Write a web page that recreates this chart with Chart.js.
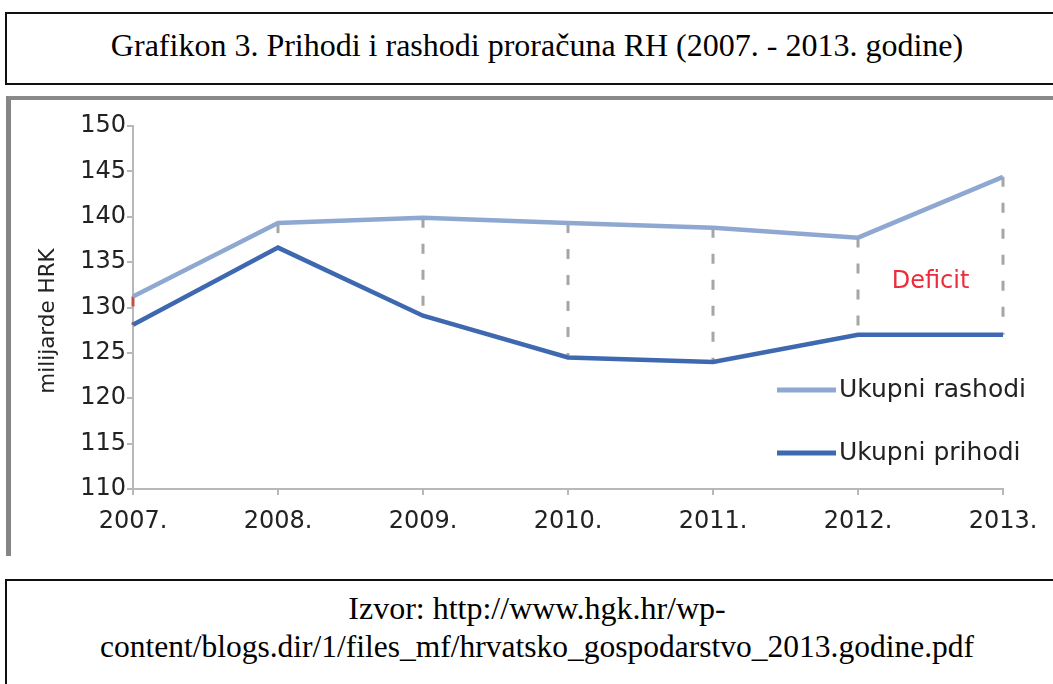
<!DOCTYPE html>
<html>
<head>
<meta charset="utf-8">
<script src="https://cdn.jsdelivr.net/npm/chart.js@4/dist/chart.umd.min.js"></script>
<style>
  html, body { margin:0; padding:0; background:#fff; width:1053px; height:684px; overflow:hidden; }
  .box { position:absolute; box-sizing:border-box; }
  #titleBox { left:5px; top:12px; width:1100px; height:73px; border:2px solid #111; }
  #chartBox { left:6px; top:96px; width:1100px; height:460px; border-top:4px solid #8a8a8a; border-left:5px solid #858585; }
  #srcBox { left:5px; top:579px; width:1100px; height:200px; border:2px solid #111; }
  .serif { position:absolute; left:0; width:1074px; text-align:center; font-family:"Liberation Serif","Times New Roman",serif; font-size:32px; line-height:37px; color:#000; white-space:nowrap; }
  #c { position:absolute; left:0; top:0; }
</style>
</head>
<body>
<div class="box" id="titleBox"></div>
<div class="box" id="chartBox"></div>
<div class="box" id="srcBox"></div>
<div class="serif" style="top:27px;">Grafikon 3. Prihodi i rashodi proračuna RH (2007. - 2013. godine)</div>
<div class="serif" style="top:590px;">Izvor: http://www.hgk.hr/wp-</div>
<div class="serif" style="top:628px;font-size:31.5px;">content/blogs.dir/1/files_mf/hrvatsko_gospodarstvo_2013.godine.pdf</div>
<canvas id="c" width="1053" height="684"></canvas>
<script>
const years = ["2007.", "2008.", "2009.", "2010.", "2011.", "2012.", "2013."];
const rashodi = [131.2, 139.3, 139.9, 139.3, 138.8, 137.7, 144.4];
const prihodi = [128.1, 136.6, 129.1, 124.5, 124.0, 127.0, 127.0];
const seriesNames = ["Ukupni rashodi", "Ukupni prihodi"];
const yTicks = [110, 115, 120, 125, 130, 135, 140, 145, 150];
const yAxisTitle = "milijarde HRK";
const deficitLabel = "Deficit";
const deficitPos = { x: 5.5, y: 132.8 };

const FONT = '"DejaVu Sans", Verdana, sans-serif';

const deficitPlugin = {
  id: 'deficit',
  beforeDatasetsDraw(chart) {
    const ctx = chart.ctx, xs = chart.scales.x, ys = chart.scales.y;
    ctx.save();
    ctx.lineWidth = 3;
    ctx.setLineDash([10, 16]);
    for (let i = 0; i < years.length; i++) {
      const x = xs.getPixelForValue(i);
      ctx.strokeStyle = i === 0 ? '#c0504d' : '#a6a6a6';
      ctx.beginPath();
      ctx.moveTo(x, ys.getPixelForValue(rashodi[i]));
      ctx.lineTo(x, ys.getPixelForValue(prihodi[i]));
      ctx.stroke();
    }
    ctx.restore();
  },
  afterDatasetsDraw(chart) {
    const ctx = chart.ctx, xs = chart.scales.x, ys = chart.scales.y;
    ctx.save();
    ctx.font = '24px ' + FONT;
    ctx.fillStyle = '#ee2b3b';
    ctx.textAlign = 'center';
    ctx.textBaseline = 'middle';
    ctx.fillText(deficitLabel, xs.getPixelForValue(deficitPos.x), ys.getPixelForValue(deficitPos.y));
    // y axis title
    ctx.save();
    ctx.translate(48, 321);
    ctx.rotate(-Math.PI / 2);
    ctx.font = '21.5px ' + FONT;
    ctx.fillStyle = '#222';
    ctx.fillText(yAxisTitle, 0, 0);
    ctx.restore();
    // legend
    const lx0 = 777, lx1 = 836, ly = [390, 453];
    chart.data.datasets.forEach((ds, k) => {
      ctx.strokeStyle = ds.borderColor;
      ctx.lineWidth = 5;
      ctx.setLineDash([]);
      ctx.beginPath();
      ctx.moveTo(lx0, ly[k]);
      ctx.lineTo(lx1, ly[k]);
      ctx.stroke();
      ctx.font = '25px ' + FONT;
      ctx.fillStyle = '#222';
      ctx.textAlign = 'left';
      ctx.textBaseline = 'middle';
      ctx.fillText(ds.label, lx1 + 3, ly[k]);
    });
    ctx.restore();
  }
};

new Chart(document.getElementById('c'), {
  type: 'line',
  data: {
    labels: years,
    datasets: [
      { label: seriesNames[0], data: rashodi, borderColor: '#8ea8d2', borderWidth: 4.5, pointRadius: 0, tension: 0, fill: false },
      { label: seriesNames[1], data: prihodi, borderColor: '#3e69b0', borderWidth: 4.5, pointRadius: 0, tension: 0, fill: false }
    ]
  },
  options: {
    responsive: false,
    animation: false,
    layout: { padding: { left: 33, right: 50, top: 126, bottom: 135 } },
    plugins: { legend: { display: false }, tooltip: { enabled: false } },
    scales: {
      x: {
        type: 'category',
        offset: false,
        afterFit(s) { s.height = 60; },
        grid: { display: true, drawOnChartArea: false, drawTicks: true, tickLength: 6, color: '#b8b8b8', lineWidth: 2 },
        border: { display: true, color: '#b8b8b8', width: 2 },
        ticks: { color: '#222', font: { family: FONT, size: 24 }, padding: 12, maxRotation: 0, autoSkip: false }
      },
      y: {
        min: 110, max: 150,
        afterFit(s) { s.width = 100; },
        afterBuildTicks(s) { s.ticks = yTicks.map(v => ({ value: v })); },
        grid: { display: true, drawOnChartArea: false, drawTicks: true, tickLength: 6, color: '#b8b8b8', lineWidth: 2 },
        border: { display: true, color: '#b8b8b8', width: 2 },
        ticks: { color: '#222', font: { family: FONT, size: 24 }, padding: 1 },
        title: { display: false }
      }
    }
  },
  plugins: [deficitPlugin]
});
</script>
</body>
</html>
